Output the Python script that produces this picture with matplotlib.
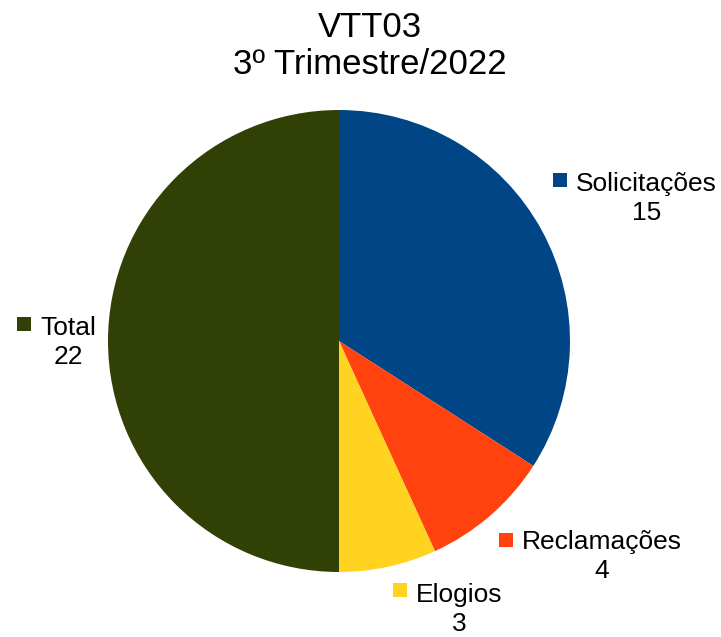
import matplotlib
matplotlib.use("Agg")
import matplotlib.pyplot as plt
from matplotlib.patches import Rectangle

# Data
categories = ["Solicitações", "Reclamações", "Elogios", "Total"]
values = [15, 4, 3, 22]
colors = ["#004586", "#ff420e", "#ffd320", "#314004"]
title_lines = ["VTT03", "3º Trimestre/2022"]

W, H = 721, 637
plt.rcParams["font.family"] = ["Liberation Sans", "DejaVu Sans"]

fig = plt.figure(figsize=(W / 100, H / 100), dpi=100)
ax = fig.add_axes([0, 0, 1, 1])

# Pie in pixel coordinates (y measured upwards)
cx, cy, r = 339, H - 341, 231
ax.pie(values, colors=colors, startangle=90, counterclock=False,
       center=(cx, cy), radius=r, frame=True,
       wedgeprops=dict(linewidth=0, antialiased=True))

ax.set_xlim(0, W)
ax.set_ylim(0, H)
ax.set_aspect("equal")
ax.axis("off")

# Title (two lines)
ax.text(W / 2 + 9, H - 37, title_lines[0], ha="center", va="baseline", fontsize=25)
ax.text(W / 2 + 9, H - 74, title_lines[1], ha="center", va="baseline", fontsize=25)

# Data labels: colour key, category name, value centered below
# (x of name, baseline of name, baseline of value) measured from the top
label_pos = [(576, 190, 220), (522, 550, 578), (416, 600, 631), (40, 334, 364)]
for cat, val, col, (tx, by1, by2) in zip(categories, values, colors, label_pos):
    ax.add_patch(Rectangle((tx - 23, H - by1 + 3), 14, 14, facecolor=col,
                           edgecolor="none"))
    ax.text(tx, H - by2, f"{cat}\n{val}", ha="left", va="baseline",
            multialignment="center", fontsize=19, linespacing=1.28)

fig.savefig("out.png", dpi=100)
